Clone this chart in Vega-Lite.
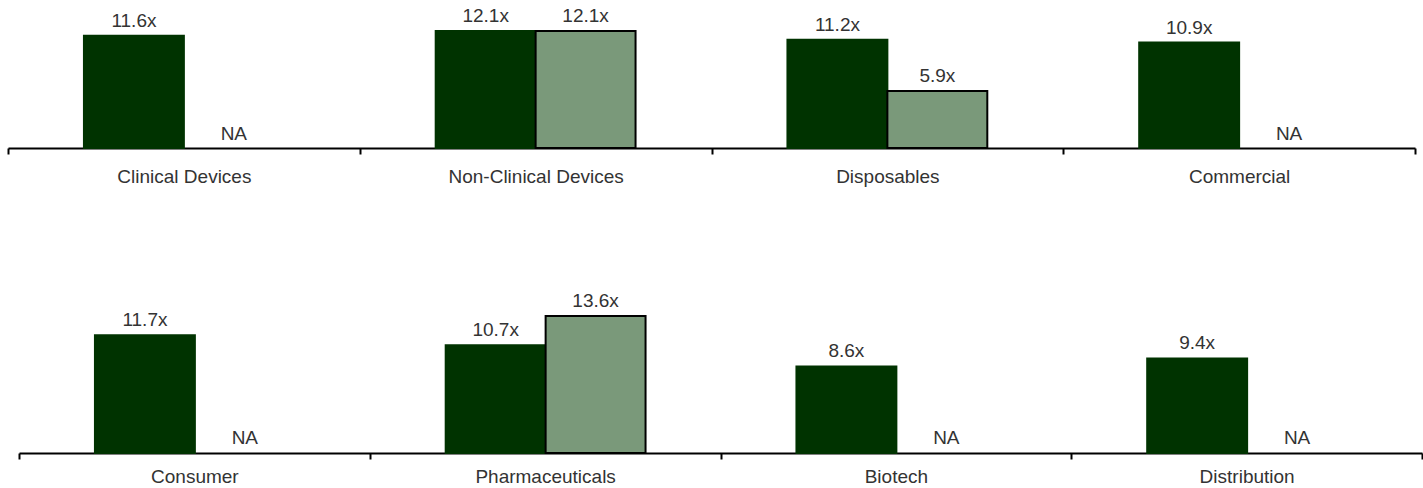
{
  "$schema": "https://vega.github.io/schema/vega-lite/v6.json",
  "padding": {"left": 7, "top": 0, "right": 0, "bottom": 0},
  "bounds": "flush",
  "spacing": 152,
  "config": {
    "view": {"stroke": null},
    "font": "Liberation Sans",
    "axisX": {
      "title": null,
      "domainColor": "#000000",
      "domainWidth": 2,
      "tickColor": "#000000",
      "tickWidth": 2,
      "tickSize": 6,
      "tickBand": "extent",
      "labelFont": "Liberation Sans",
      "labelFontSize": 19,
      "labelColor": "#333333",
      "labelAngle": 0,
      "labelLimit": 0,
      "grid": false
    }
  },
  "data": {
    "values": [
      {"row": 1, "category": "Clinical Devices", "series": "s1", "value": 11.6, "label": "11.6x"},
      {"row": 1, "category": "Clinical Devices", "series": "s2", "value": null, "label": "NA"},
      {"row": 1, "category": "Non-Clinical Devices", "series": "s1", "value": 12.1, "label": "12.1x"},
      {"row": 1, "category": "Non-Clinical Devices", "series": "s2", "value": 12.1, "label": "12.1x"},
      {"row": 1, "category": "Disposables", "series": "s1", "value": 11.2, "label": "11.2x"},
      {"row": 1, "category": "Disposables", "series": "s2", "value": 5.9, "label": "5.9x"},
      {"row": 1, "category": "Commercial", "series": "s1", "value": 10.9, "label": "10.9x"},
      {"row": 1, "category": "Commercial", "series": "s2", "value": null, "label": "NA"},
      {"row": 2, "category": "Consumer", "series": "s1", "value": 11.7, "label": "11.7x"},
      {"row": 2, "category": "Consumer", "series": "s2", "value": null, "label": "NA"},
      {"row": 2, "category": "Pharmaceuticals", "series": "s1", "value": 10.7, "label": "10.7x"},
      {"row": 2, "category": "Pharmaceuticals", "series": "s2", "value": 13.6, "label": "13.6x"},
      {"row": 2, "category": "Biotech", "series": "s1", "value": 8.6, "label": "8.6x"},
      {"row": 2, "category": "Biotech", "series": "s2", "value": null, "label": "NA"},
      {"row": 2, "category": "Distribution", "series": "s1", "value": 9.4, "label": "9.4x"},
      {"row": 2, "category": "Distribution", "series": "s2", "value": null, "label": "NA"}
    ]
  },
  "vconcat": [
    {
      "width": 1407,
      "height": 148,
      "transform": [{"filter": "datum.row == 1"}],
      "encoding": {
        "x": {"field": "category", "type": "nominal", "sort": null,
              "axis": {"labelPadding": 13},
              "scale": {"paddingInner": 0, "paddingOuter": 0}},
        "xOffset": {"field": "series", "type": "nominal",
                    "scale": {"paddingInner": 0, "paddingOuter": 0.76}}
      },
      "layer": [
        {
          "mark": {"type": "bar", "strokeWidth": 2},
          "encoding": {
            "y": {"field": "value", "type": "quantitative", "axis": null,
                  "scale": {"domain": [0, 15.3], "nice": false}},
            "color": {"field": "series", "type": "nominal", "legend": null,
                      "scale": {"range": ["#003300", "#7a997a"]}},
            "stroke": {"field": "series", "type": "nominal", "legend": null,
                       "scale": {"range": ["#003300", "#000000"]}}
          }
        },
        {
          "transform": [{"filter": "datum.value != null"}],
          "mark": {"type": "text", "baseline": "alphabetic", "dy": -9, "fontSize": 19, "color": "#333333"},
          "encoding": {
            "y": {"field": "value", "type": "quantitative"},
            "text": {"field": "label"}
          }
        },
        {
          "transform": [{"filter": "datum.value == null"}],
          "mark": {"type": "text", "baseline": "alphabetic", "dy": -8, "fontSize": 19, "color": "#333333"},
          "encoding": {
            "y": {"datum": 0, "type": "quantitative"},
            "text": {"field": "label"}
          }
        }
      ]
    },
    {
      "width": 1414,
      "height": 153,
      "transform": [{"filter": "datum.row == 2"}],
      "encoding": {
        "x": {"field": "category", "type": "nominal", "sort": null,
              "axis": {"labelPadding": 8},
              "scale": {"paddingInner": 0, "paddingOuter": 0, "range": [11, 1414]}},
        "xOffset": {"field": "series", "type": "nominal",
                    "scale": {"paddingInner": 0, "paddingOuter": 0.76}}
      },
      "layer": [
        {
          "mark": {"type": "bar", "strokeWidth": 2},
          "encoding": {
            "y": {"field": "value", "type": "quantitative", "axis": null,
                  "scale": {"domain": [0, 15.2], "nice": false}},
            "color": {"field": "series", "type": "nominal", "legend": null,
                      "scale": {"range": ["#003300", "#7a997a"]}},
            "stroke": {"field": "series", "type": "nominal", "legend": null,
                       "scale": {"range": ["#003300", "#000000"]}}
          }
        },
        {
          "transform": [{"filter": "datum.value != null"}],
          "mark": {"type": "text", "baseline": "alphabetic", "dy": -9, "fontSize": 19, "color": "#333333"},
          "encoding": {
            "y": {"field": "value", "type": "quantitative"},
            "text": {"field": "label"}
          }
        },
        {
          "transform": [{"filter": "datum.value == null"}],
          "mark": {"type": "text", "baseline": "alphabetic", "dy": -9, "fontSize": 19, "color": "#333333"},
          "encoding": {
            "y": {"datum": 0, "type": "quantitative"},
            "text": {"field": "label"}
          }
        }
      ]
    }
  ]
}
